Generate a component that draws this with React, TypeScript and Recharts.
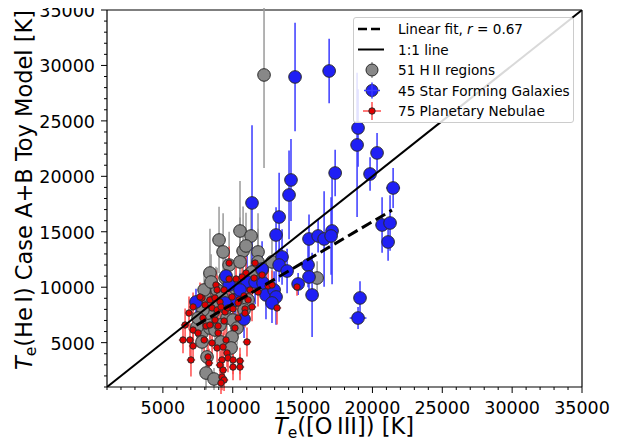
import { ScatterChart, Scatter, XAxis, YAxis, ErrorBar, ReferenceLine } from 'recharts';

// H II regions (grey)
const hiiX = [12240, 10520, 11310, 9020, 9310, 10740, 11810, 8370, 9450, 8800, 10160, 8020, 11380, 11810, 12810, 16040, 7800, 8370, 8590, 9590, 10020, 10310, 9950, 9160, 8160, 8090, 8660, 7800, 7440, 8880, 8160, 8520, 8230, 9230, 9810, 7870, 9740, 10520, 10950, 12100, 9520, 10240, 7520, 8730, 11100, 10810, 7950, 9020, 8450, 9880, 9090];
const hiiY = [29140, 15070, 14620, 14260, 13180, 13270, 13180, 11280, 10830, 9840, 9930, 9120, 11370, 12280, 12280, 10830, 5870, 6320, 7770, 7220, 7040, 6320, 5510, 5060, 3710, 2260, 1720, 5060, 6410, 9750, 7220, 8580, 7670, 9120, 8400, 7950, 12000, 12280, 13720, 11550, 8130, 8850, 7220, 6140, 8850, 7950, 9750, 8400, 10470, 4520, 6590];
const hiiErr = [8400, 4500, 3500, 3000, 3500, 4000, 3500, 4000, 2500, 2000, 2000, 1500, 3000, 3000, 2500, 1500, 1500, 1500, 2000, 1500, 1500, 1500, 1500, 1500, 1500, 1500, 1000, 1500, 1500, 2000, 1500, 2000, 1500, 2000, 2000, 1500, 3000, 4000, 3000, 2000, 2000, 2000, 1500, 1500, 1500, 1500, 1500, 1500, 2500, 1500, 1500];

// star forming galaxies (blue)
const sfgX = [14460, 16900, 18970, 18900, 20330, 17330, 19830, 21480, 14170, 14030, 11380, 13320, 13100, 15460, 16110, 16540, 17110, 17040, 20690, 21260, 21120, 13530, 13320, 15390, 15460, 15680, 14680, 11020, 11600, 12170, 9740, 7370, 10160, 9450, 12380, 12960, 13100, 12810, 10810, 19110, 18970, 10520, 9520, 12100, 13890];
const sfgY = [28960, 29500, 24360, 22830, 22110, 20300, 20210, 18950, 19670, 18320, 17600, 16330, 14710, 14350, 14620, 14350, 15070, 14620, 15610, 15790, 14080, 12730, 12000, 12000, 10920, 9300, 10290, 10470, 10470, 10380, 10200, 8670, 8850, 8580, 9300, 9750, 9120, 8580, 7130, 9030, 7220, 9750, 11010, 11640, 11460];
const sfgErr = [4900, 2900, 3500, 6500, 1800, 2100, 1500, 1800, 3700, 4000, 7000, 4000, 2500, 2200, 1500, 4300, 4800, 3500, 2500, 2500, 1700, 2500, 1500, 2000, 1500, 3800, 1000, 2500, 2000, 1500, 2000, 1200, 1500, 1300, 2200, 1700, 2500, 1800, 1700, 1500, 1000, 1500, 1500, 2500, 2000];
const sfgXErr = [300, 300, 300, 400, 300, 300, 300, 500, 300, 300, 300, 300, 300, 300, 300, 300, 300, 300, 400, 300, 300, 300, 300, 300, 300, 300, 300, 300, 300, 300, 300, 400, 300, 300, 300, 300, 300, 300, 300, 300, 600, 300, 300, 300, 300];

// planetary nebulae (red)
const pnX = [9740, 11600, 10240, 10950, 11530, 10670, 12100, 12530, 13170, 14600, 6870, 6590, 7160, 6440, 6940, 7160, 7010, 7800, 8020, 8370, 8730, 9090, 8520, 8880, 9160, 9450, 9660, 10020, 10450, 10880, 11100, 7870, 8090, 8730, 8370, 8950, 9380, 7950, 8520, 8880, 9310, 9590, 9660, 10020, 10520, 10520, 10020, 9230, 9090, 8300, 8230, 9310, 9230, 9380, 9160, 11020, 10880, 9740, 9380, 8800, 8880, 7660, 7160, 12810, 11810, 11380, 10380, 9950, 10160, 8950, 7520, 10380, 11240, 9520, 10810];
const pnY = [12180, 12180, 10740, 11280, 10830, 10920, 11100, 10110, 8130, 10020, 7670, 6590, 6140, 5240, 5240, 4700, 3440, 9030, 8400, 8850, 9030, 8670, 8130, 7950, 8220, 7770, 8130, 8040, 8850, 8040, 8850, 7220, 6500, 7040, 6590, 6500, 6950, 5240, 4970, 4520, 4610, 4070, 3620, 3440, 3350, 2800, 2800, 3440, 2980, 3160, 3710, 2530, 1900, 1630, 1360, 5060, 7670, 10740, 9750, 10200, 9750, 9120, 8220, 10200, 9570, 8220, 8580, 9120, 6320, 5870, 5870, 7220, 9750, 5240, 9210];
const pnErr = [1500, 1200, 1500, 1500, 1200, 1500, 1200, 1500, 1500, 800, 1500, 1500, 1500, 1200, 1500, 1500, 1500, 1300, 1300, 1300, 1300, 1300, 1300, 1300, 1300, 1300, 1300, 1300, 1300, 1300, 1200, 1300, 1300, 1300, 1300, 1300, 1300, 1300, 1300, 1300, 1300, 1300, 1300, 1300, 1200, 1200, 1200, 1300, 1300, 1300, 1300, 1300, 1200, 1000, 1000, 1300, 1300, 2000, 1300, 1300, 1300, 1300, 1300, 1300, 1300, 1300, 1300, 1300, 1300, 1300, 1300, 1300, 1300, 1300, 1300];

const hiiXErr = 350;
const pnXErr = 300;

// fit line endpoints and 1:1 line
const fitX = [7400, 21400];
const fitY = [6570, 16950];
const unityLine = [1000, 35000];

const majorTicks = [5000, 10000, 15000, 20000, 25000, 30000, 35000];
const minorTicks = Array.from({ length: 35 }, (_, i) => 1000 + i * 1000);

const FONT = 'DejaVu Sans';

const hiiData = hiiX.map((x, i) => ({ x, y: hiiY[i], ey: hiiErr[i], ex: hiiXErr }));
const sfgData = sfgX.map((x, i) => ({ x, y: sfgY[i], ey: sfgErr[i], ex: sfgXErr[i] }));
const pnData = pnX.map((x, i) => ({ x, y: pnY[i], ey: pnErr[i], ex: pnXErr }));
const fitData = fitX.map((x, i) => ({ x, y: fitY[i] }));
const unityData = unityLine.map((v) => ({ x: v, y: v }));

const XTick = (props: any) => {
  const { x, y, payload } = props;
  const major = majorTicks.includes(payload.value);
  return (
    <g>
      <line x1={x} x2={x} y1={y} y2={y + (major ? 6 : 3)} stroke="#000" strokeWidth={1} />
      {major && (
        <text x={x} y={y + 27} textAnchor="middle" fontSize={17.5} fontFamily={FONT} fill="#000">
          {payload.value}
        </text>
      )}
    </g>
  );
};

const YTick = (props: any) => {
  const { x, y, payload } = props;
  const major = majorTicks.includes(payload.value);
  return (
    <g>
      <line x1={x} x2={x - (major ? 6 : 3)} y1={y} y2={y} stroke="#000" strokeWidth={1} />
      {major && (
        <text x={x - 12} y={y + 7} textAnchor="end" fontSize={17.5} fontFamily={FONT} fill="#000">
          {payload.value}
        </text>
      )}
    </g>
  );
};

const dot = (r: number, fill: string) => (p: any) => (
  <circle cx={p.cx} cy={p.cy} r={r} fill={fill} stroke="#2a2a2a" strokeWidth={1} />
);
const noDot = () => <g />;

const legendRows = [
  { key: 'fit', label: <>Linear fit, <tspan fontStyle="italic">r</tspan> = 0.67</> },
  { key: 'one', label: <>1:1 line</> },
  { key: 'hii', label: <>51 H{'\u2009'}II regions</> },
  { key: 'sfg', label: <>45 Star Forming Galaxies</> },
  { key: 'pn', label: <>75 Planetary Nebulae</> },
];

const Handle = ({ kind }: { kind: string }) => {
  if (kind === 'fit') return <line x1={0} x2={26} y1={10} y2={10} stroke="#000" strokeWidth={2.6} strokeDasharray="9 4" />;
  if (kind === 'one') return <line x1={0} x2={26} y1={10} y2={10} stroke="#000" strokeWidth={2} />;
  if (kind === 'hii')
    return (
      <g>
        <line x1={14} x2={14} y1={2} y2={18} stroke="#999" strokeWidth={1.5} />
        <circle cx={14} cy={10} r={6} fill="#888" stroke="#2a2a2a" />
      </g>
    );
  if (kind === 'sfg')
    return (
      <g>
        <circle cx={14} cy={10} r={6} fill="#1f1ff5" stroke="#2a2a2a" />
        <line x1={14} x2={14} y1={2} y2={18} stroke="#3a3aff" strokeWidth={1.5} />
        <line x1={6} x2={22} y1={10} y2={10} stroke="#3a3aff" strokeWidth={1.5} />
      </g>
    );
  return (
    <g>
      <line x1={14} x2={14} y1={1} y2={19} stroke="#ff4d4d" strokeWidth={1.5} />
      <line x1={5} x2={23} y1={10} y2={10} stroke="#ff4d4d" strokeWidth={1.5} />
      <circle cx={14} cy={10} r={3.2} fill="#e00000" stroke="#2a2a2a" />
    </g>
  );
};

const App = () => {
  return (
    <div style={{ position: 'relative', width: 616, height: 432 }}>
      <ScatterChart width={616} height={432} margin={{ top: 2, right: 42, bottom: 0, left: 0 }}>
        <XAxis
          type="number"
          dataKey="x"
          domain={[1000, 35000]}
          allowDataOverflow
          ticks={minorTicks}
          interval={0}
          tick={<XTick />}
          tickLine={false}
          tickSize={0}
          tickMargin={0}
          height={53}
          axisLine={{ stroke: '#000', strokeWidth: 1.2 }}
        />
        <YAxis
          type="number"
          dataKey="y"
          domain={[1000, 35000]}
          allowDataOverflow
          ticks={minorTicks}
          interval={0}
          tick={<YTick />}
          tickLine={false}
          tickSize={0}
          tickMargin={0}
          width={99}
          axisLine={{ stroke: '#000', strokeWidth: 1.2 }}
        />
        <ReferenceLine y={35000} stroke="#000" strokeWidth={1.2} />
        <ReferenceLine x={35000} stroke="#000" strokeWidth={1.2} />
        <Scatter data={hiiData} isAnimationActive={false} shape={dot(6.3, '#888888')}>
          <ErrorBar dataKey="ey" direction="y" width={0} stroke="#9a9a9a" strokeWidth={1.5} />
          <ErrorBar dataKey="ex" direction="x" width={0} stroke="#9a9a9a" strokeWidth={1.5} />
        </Scatter>
        <Scatter data={sfgData} isAnimationActive={false} shape={dot(6.3, '#1f1ff5')}>
          <ErrorBar dataKey="ey" direction="y" width={0} stroke="#3a3aff" strokeWidth={1.5} />
          <ErrorBar dataKey="ex" direction="x" width={0} stroke="#3a3aff" strokeWidth={1.5} />
        </Scatter>
        <Scatter data={pnData} isAnimationActive={false} shape={dot(3.2, '#e00000')}>
          <ErrorBar dataKey="ey" direction="y" width={0} stroke="#ff4d4d" strokeWidth={1.5} />
          <ErrorBar dataKey="ex" direction="x" width={0} stroke="#ff4d4d" strokeWidth={1.5} />
        </Scatter>
        <Scatter
          data={unityData}
          isAnimationActive={false}
          shape={noDot}
          line={{ stroke: '#000', strokeWidth: 2 }}
        />
        <Scatter
          data={fitData}
          isAnimationActive={false}
          shape={noDot}
          line={{ stroke: '#000', strokeWidth: 3, strokeDasharray: '11 5' }}
        />
      </ScatterChart>

      {/* axis titles */}
      <svg width={616} height={432} style={{ position: 'absolute', left: 0, top: 0, pointerEvents: 'none' }}>
        <text x={336} y={426} textAnchor="middle" fontSize={22.5} fontFamily={FONT} fill="#000">
          <tspan fontStyle="italic">T</tspan>
          <tspan fontSize={15.5} dy={4}>e</tspan>
          <tspan dy={-4}>([O{'\u2009'}III]) [K]</tspan>
        </text>
        <text
          transform="translate(23.5, 182) rotate(-90)"
          textAnchor="middle"
          fontSize={22.5}
          fontFamily={FONT}
          fill="#000"
        >
          <tspan fontStyle="italic">T</tspan>
          <tspan fontSize={15.5} dy={4}>e</tspan>
          <tspan dy={-4}>(He{'\u2009'}I) Case A+B Toy Model [K]</tspan>
        </text>
      </svg>

      {/* legend */}
      <div
        style={{
          position: 'absolute',
          left: 345,
          top: 9,
          width: 221,
          height: 106,
          border: '1px solid #cccccc',
          borderRadius: 3,
          background: 'rgba(255,255,255,0.85)',
          boxSizing: 'border-box',
        }}
      >
        <svg width={221} height={106}>
          {legendRows.map((row, i) => (
            <g key={row.key} transform={`translate(4, ${i * 20.5 + 1})`}>
              <Handle kind={row.key} />
              <text x={40} y={15} fontSize={13.6} fontFamily={FONT} fill="#000">
                {row.label}
              </text>
            </g>
          ))}
        </svg>
      </div>
    </div>
  );
};

export default App;
